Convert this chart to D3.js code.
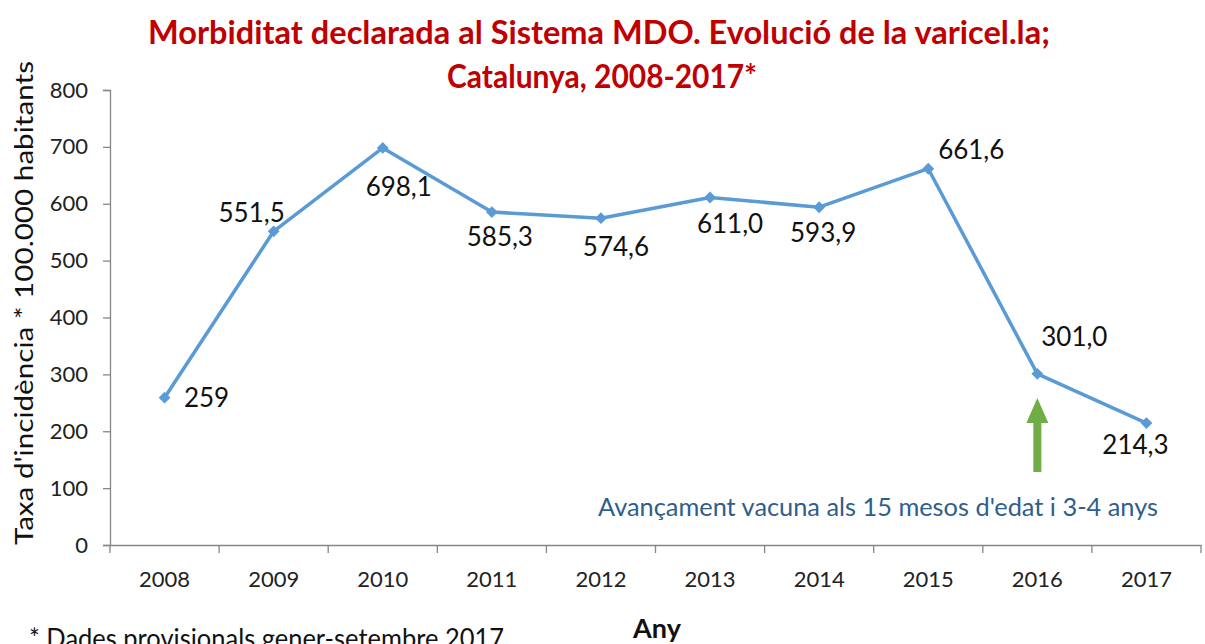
<!DOCTYPE html>
<html>
<head>
<meta charset="utf-8">
<script src="https://cdn.jsdelivr.net/npm/d3@7"></script>
<style>
  body { margin: 0; background: #fff; }
  svg { display: block; }
  text { font-family: Lato, "Open Sans", sans-serif; }
</style>
</head>
<body>
<svg id="chart" width="1205" height="644"></svg>
<script>
// data
const years = ['2008', '2009', '2010', '2011', '2012', '2013', '2014', '2015', '2016', '2017'];
const rates = [259, 551.5, 698.1, 585.3, 574.6, 611.0, 593.9, 661.6, 301.0, 214.3];
const rateLabels = ['259', '551,5', '698,1', '585,3', '574,6', '611,0', '593,9', '661,6', '301,0', '214,3'];
const yTicks = [0, 100, 200, 300, 400, 500, 600, 700, 800];

// where each value label sits relative to its marker (layout only)
const labelOffset = [[42, 0], [-22, -19], [16, 39], [8, 25], [15, 28], [20, 26], [4, 25], [43, -19], [37, -37], [-11, 22]];

const svg = d3.select('#chart');
const axisColor = '#868686';
const lineColor = '#5B9BD5';

const x = d3.scaleBand().domain(years).range([110, 1201]).paddingInner(0).paddingOuter(0);
const y = d3.scaleLinear().domain([0, 800]).range([545, 90]);

// title
svg.append('text')
   .attr('x', 599).attr('y', 44)
   .attr('text-anchor', 'middle')
   .attr('textLength', 902).attr('lengthAdjust', 'spacingAndGlyphs')
   .style('font-size', '33px').style('font-weight', 'bold').style('fill', '#C00000')
   .text('Morbiditat declarada al Sistema MDO. Evolució de la varicel.la;');
svg.append('text')
   .attr('x', 602).attr('y', 88)
   .attr('text-anchor', 'middle')
   .attr('textLength', 310).attr('lengthAdjust', 'spacingAndGlyphs')
   .style('font-size', '33px').style('font-weight', 'bold').style('fill', '#C00000')
   .text('Catalunya, 2008-2017*');

// y axis
const yAxis = svg.append('g')
   .attr('transform', 'translate(110,0)')
   .call(d3.axisLeft(y).tickValues(yTicks).tickSize(7).tickPadding(15));
yAxis.select('.domain').attr('stroke', axisColor).attr('stroke-width', 1.3);
yAxis.selectAll('.tick line').attr('stroke', axisColor).attr('stroke-width', 1.3);
yAxis.selectAll('.tick text')
     .style('font-size', '22px').style('fill', '#222')
     .style('font-family', 'Lato, sans-serif');

// x axis
const xAxis = svg.append('g')
   .attr('transform', 'translate(0,545)')
   .call(d3.axisBottom(x).tickSize(0).tickPadding(26));
xAxis.select('.domain').attr('stroke', axisColor).attr('stroke-width', 1.3);
xAxis.selectAll('.tick text')
     .style('font-size', '22px').style('fill', '#222')
     .style('font-family', 'Lato, sans-serif');

const edges = years.map(d => x(d)).concat([x.range()[1]]);
svg.append('g').selectAll('line')
   .data(edges)
   .join('line')
   .attr('x1', d => d).attr('x2', d => d)
   .attr('y1', 545).attr('y2', 553)
   .attr('stroke', axisColor).attr('stroke-width', 1.3);

// axis titles
svg.append('text')
   .attr('transform', 'translate(33,303) rotate(-90)')
   .attr('text-anchor', 'middle')
   .attr('textLength', 484).attr('lengthAdjust', 'spacingAndGlyphs')
   .style('font-size', '25px').style('fill', '#111')
   .text("Taxa d'incidència * 100.000 habitants");

svg.append('text')
   .attr('x', 657).attr('y', 638)
   .attr('text-anchor', 'middle')
   .style('font-size', '27px').style('font-weight', 'bold').style('fill', '#111')
   .text('Any');

svg.append('text')
   .attr('x', 29).attr('y', 648)
   .attr('textLength', 475).attr('lengthAdjust', 'spacingAndGlyphs')
   .style('font-size', '26px').style('fill', '#111')
   .text('* Dades provisionals gener-setembre 2017');

// line + markers
const pts = years.map((d, i) => ({ year: d, value: rates[i], label: rateLabels[i], off: labelOffset[i] }));
const cx = d => x(d.year) + x.bandwidth() / 2;

svg.append('path')
   .datum(pts)
   .attr('fill', 'none')
   .attr('stroke', lineColor)
   .attr('stroke-width', 3.5)
   .attr('stroke-linejoin', 'round')
   .attr('d', d3.line().x(cx).y(d => y(d.value)));

svg.append('g').selectAll('path')
   .data(pts)
   .join('path')
   .attr('transform', d => `translate(${cx(d)},${y(d.value)}) rotate(45)`)
   .attr('d', d3.symbol(d3.symbolSquare, 70))
   .attr('fill', lineColor);

svg.append('g').selectAll('text')
   .data(pts)
   .join('text')
   .attr('x', d => cx(d) + d.off[0])
   .attr('y', d => y(d.value) + d.off[1])
   .attr('dy', '0.36em')
   .attr('text-anchor', 'middle')
   .style('font-size', '26px').style('fill', '#111')
   .text(d => d.label);

// vaccine annotation
const arrowX = cx(pts[8]);
const arrow = d3.path();
arrow.moveTo(arrowX, 398);
arrow.lineTo(arrowX + 11, 423);
arrow.lineTo(arrowX + 4, 423);
arrow.lineTo(arrowX + 4, 472);
arrow.lineTo(arrowX - 4, 472);
arrow.lineTo(arrowX - 4, 423);
arrow.lineTo(arrowX - 11, 423);
arrow.closePath();
svg.append('path').attr('d', arrow.toString()).attr('fill', '#70AD47');

svg.append('text')
   .attr('x', 878).attr('y', 516)
   .attr('text-anchor', 'middle')
   .attr('textLength', 560).attr('lengthAdjust', 'spacingAndGlyphs')
   .style('font-size', '25px').style('fill', '#2E5E8C')
   .text("Avançament vacuna als 15 mesos d'edat i 3-4 anys");
</script>
</body>
</html>
